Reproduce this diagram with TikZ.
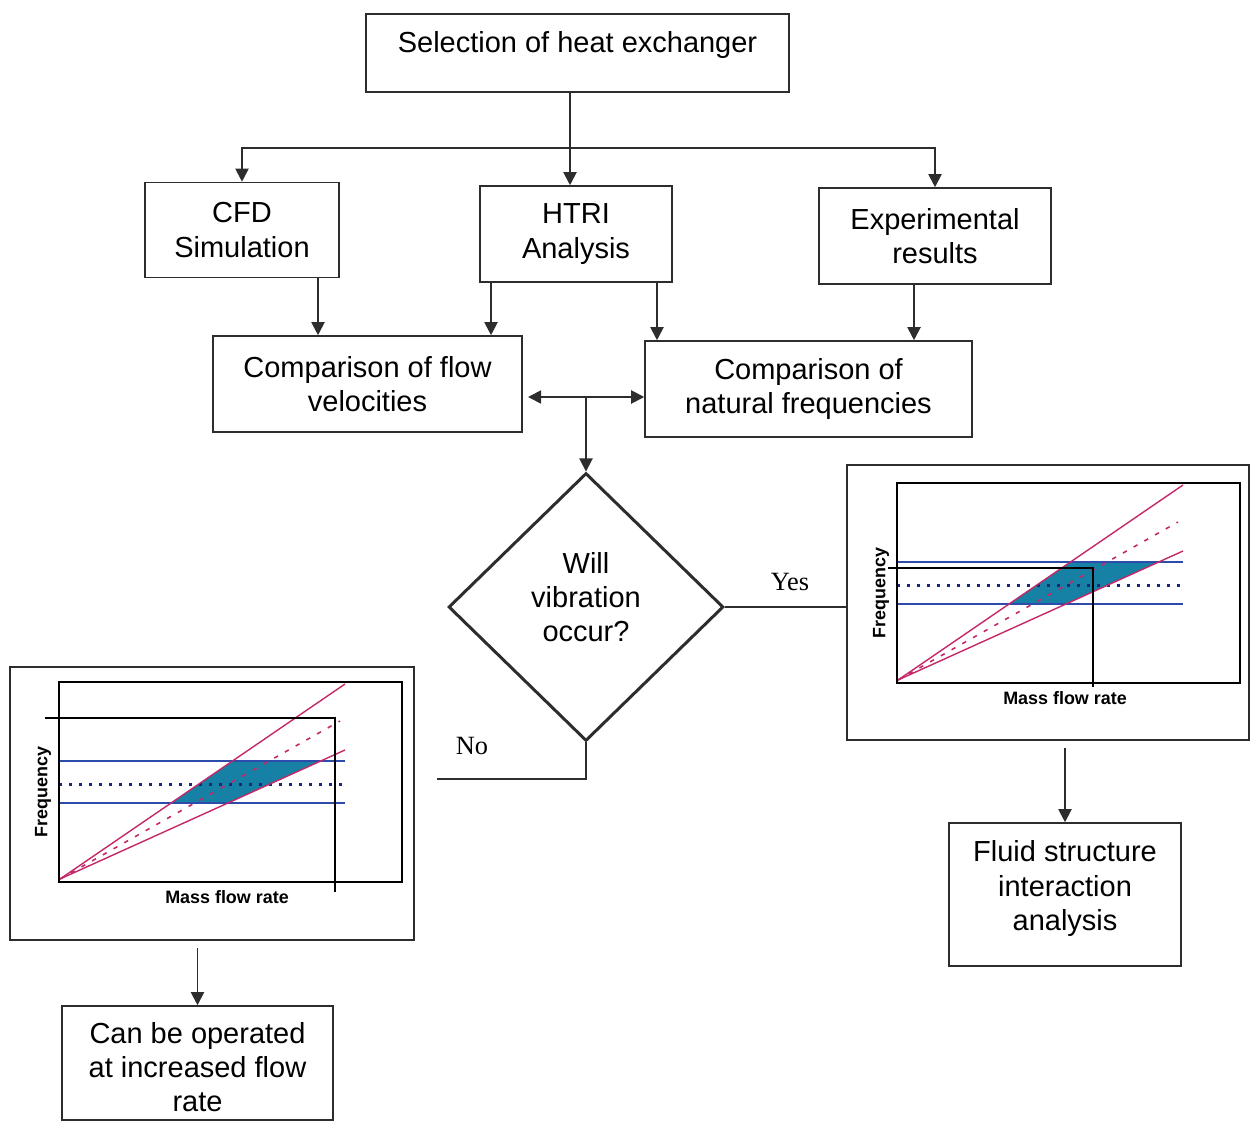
\documentclass[tikz,border=0pt]{standalone}
\usepackage{fontspec}
\setmainfont{Liberation Sans}
\newfontfamily\timesfont{Liberation Serif}
\usetikzlibrary{shapes.geometric,arrows.meta}

\definecolor{linegray}{RGB}{45,45,45}
\definecolor{plotpink}{RGB}{196,40,105}
\definecolor{plotteal}{RGB}{22,128,165}
\definecolor{plotblue}{RGB}{45,75,170}
\definecolor{plotnavy}{RGB}{25,40,120}

% frequency / mass flow chart, origin at lower left corner of the plot area
\newcommand{\freqplot}[1]{%
	\fill [plotteal] (111,-76) -- (172.5,-118) -- (260.7,-118) -- (168,-76) -- cycle;
	\draw [plotblue, line width=0.65pt] (-1,-118) -- (285,-118);
	\draw [plotblue, line width=0.65pt] (-1,-76) -- (285,-76);
	\draw [plotnavy, line width=1.7pt, dash pattern=on 1.7pt off 4pt] (-1,-95) -- (285,-95);
	\draw [plotpink, line width=0.8pt] (0,0) -- (285,-195);
	\draw [plotpink, line width=0.8pt] (0,0) -- (285,-129);
	\draw [plotpink, line width=0.9pt, dash pattern=on 2.5pt off 4.5pt] (0,0) -- (280,-158);
	\draw [black, line width=0.75pt] (-1,3) rectangle (342,-197);
	\node [axislabel] (#1mass) at (167,18) {Mass flow rate};
	\node [axislabel, rotate=90] (#1freq) at (-17,-87) {Frequency};
}

\begin{document}
\begin{tikzpicture}[x=0.02cm, y=-0.02cm,
		box/.style={draw=linegray, line width=0.9pt, align=center, inner sep=2pt,
			font=\fontsize{16.5}{19.4}\selectfont},
		boxtext/.style={align=center, font=\fontsize{16.5}{19.4}\selectfont},
		arr/.style={draw=linegray, line width=1.1pt, -{Triangle[length=7.5pt,width=7.5pt]}},
		dblarr/.style={draw=linegray, line width=1.1pt, {Triangle[length=7.5pt,width=7.5pt]}-{Triangle[length=7.5pt,width=7.5pt]}},
		link/.style={draw=linegray, line width=1.1pt},
		frame/.style={draw=linegray, line width=0.9pt},
		axislabel/.style={font=\bfseries\fontsize{10.2}{12}\selectfont, inner sep=0pt},
		answer/.style={font=\timesfont\fontsize{15}{18}\selectfont, inner sep=0pt}]

	\useasboundingbox (0,0) rectangle (1250,1122);

	\node [box, minimum width=8.46cm, minimum height=1.56cm, text depth=0.45cm] (select) at (577.5,53) {Selection of heat exchanger};

	\node [box, minimum width=3.88cm, minimum height=1.9cm] (cfd) at (242,230) {CFD\\Simulation};
	\node [box, minimum width=3.84cm, minimum height=1.92cm] (htri) at (576,234) {HTRI\\Analysis};
	\node [box, minimum width=4.64cm, minimum height=1.92cm] (exper) at (935,236) {Experimental\\results};

	\node [box, minimum width=6.18cm, minimum height=1.92cm] (velcomp) at (367.5,384) {Comparison of flow\\velocities};
	\node [box, minimum width=6.54cm, minimum height=1.92cm] (freqcomp) at (808.5,389) {Comparison of\\natural frequencies};

	\node [box, shape=diamond, line width=1.7pt, minimum width=5.5cm, minimum height=5.36cm,
		label={[boxtext, yshift=0.2cm]center:Will\\vibration\\occur?}] (vibq) at (586,607) {};

	\node [frame, minimum width=8.04cm, minimum height=5.5cm] (chartR) at (1048,602.5) {};
	\node [frame, minimum width=8.08cm, minimum height=5.46cm] (chartL) at (212,803.5) {};

	\node [box, minimum width=4.64cm, minimum height=2.86cm,
		label={[boxtext, yshift=0.12cm]center:Fluid structure\\interaction\\analysis}] (fsi) at (1065,894.5) {};
	\node [box, minimum width=5.42cm, minimum height=2.28cm,
		label={[boxtext, yshift=-0.08cm]center:Can be operated\\at increased flow\\rate}] (incflow) at (197.5,1063) {};

	\node [answer] (yes) at (790,582) {Yes};
	\node [answer] (no) at (472,746) {No};

	\begin{scope}[shift={(898,680)}]
		\freqplot{R}
		\draw [black, line width=0.85pt] (-10,-112) -- (195,-112) -- (195,7);
	\end{scope}
	\begin{scope}[shift={(60,879)}]
		\freqplot{L}
		\draw [black, line width=0.85pt] (-15,-161) -- (275,-161) -- (275,13);
	\end{scope}

	\coordinate (split) at (570,148);
	\coordinate (cfdx) at (318,0);
	\coordinate (htrixa) at (491,0);
	\coordinate (htrixb) at (657,0);
	\coordinate (experx) at (914,0);
	\coordinate (mid) at (586,397);
	\coordinate (noend) at (437,779);

	\draw [link] (select.south -| split) -- (split);
	\draw [arr] (split) -- (htri.north -| split);
	\draw [arr] (split) -| (cfd.north);
	\draw [arr] (split) -| (exper.north);

	\draw [arr] (cfd.south -| cfdx) -- (velcomp.north -| cfdx);
	\draw [arr] (htri.south -| htrixa) -- (velcomp.north -| htrixa);
	\draw [arr] (htri.south -| htrixb) -- (freqcomp.north -| htrixb);
	\draw [arr] (exper.south -| experx) -- (freqcomp.north -| experx);

	\draw [dblarr, shorten <=3pt] (mid -| velcomp.east) -- (mid -| freqcomp.west);
	\draw [arr] (mid) -- (vibq.north);

	\draw [link] (vibq.east) -- (vibq.east -| chartR.west);
	\draw [link] (vibq.south) |- (noend);

	\draw [arr, shorten <=4pt] (chartR.south -| fsi.north) -- (fsi.north);
	\draw [arr, shorten <=4pt] (chartL.south -| incflow.north) -- (incflow.north);

\end{tikzpicture}
\end{document}
